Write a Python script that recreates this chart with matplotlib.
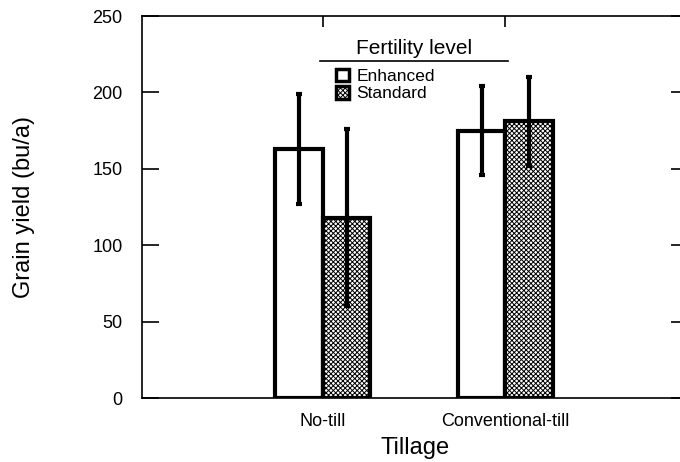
import matplotlib
matplotlib.use("Agg")
import matplotlib.pyplot as plt
import numpy as np
from matplotlib.patches import Patch
from matplotlib.lines import Line2D

plt.rcParams["font.family"] = ["Liberation Sans", "DejaVu Sans"]
plt.rcParams["hatch.linewidth"] = 0.7

# data
tillage = ["No-till", "Conventional-till"]
levels = ["Enhanced", "Standard"]
enhanced = [163, 175]
enhanced_err = [36, 29]
standard = [118, 181]
standard_err = [58, 29]
yticks = [0, 50, 100, 150, 200, 250]

fig = plt.figure(figsize=(6.8, 4.62), dpi=100)
ax = fig.add_axes([0.2088, 0.1385, 0.803, 0.8268])

x = np.arange(len(tillage))
w = 0.26
err_kw = dict(ecolor="black", elinewidth=3, capsize=2.5, capthick=3)
ax.bar(x - w / 2, enhanced, w, yerr=enhanced_err, color="white",
       edgecolor="black", linewidth=3, error_kw=err_kw, zorder=2)
ax.bar(x + w / 2, standard, w, yerr=standard_err, color="white",
       edgecolor="black", linewidth=3, hatch="xxxxxxx", error_kw=err_kw,
       zorder=2)

ax.set_xlim(-0.99, 2.0)
ax.set_ylim(0, 250)
ax.set_yticks(yticks)
ax.set_xticks(x)
ax.set_xticklabels(tillage, fontsize=13)
ax.tick_params(axis="y", direction="in", length=12, width=1.2, labelsize=13,
               right=True, pad=14)
ax.tick_params(axis="x", direction="in", length=8, width=1.2, top=True,
               bottom=False, pad=11)
for s in ax.spines.values():
    s.set_linewidth(1.2)
ax.spines["right"].set_visible(False)

ax.set_ylabel("Grain yield (bu/a)", fontsize=17)
ax.yaxis.set_label_coords(-0.196, 0.5)
ax.set_xlabel("Tillage", fontsize=17, labelpad=5)

handles = [Patch(facecolor="white", edgecolor="black", linewidth=2.5),
           Patch(facecolor="white", edgecolor="black", linewidth=2.5,
                 hatch="xxxxxxx")]
leg = ax.legend(handles, levels, loc="upper left",
                bbox_to_anchor=(0.34, 0.885), frameon=False, fontsize=12.5,
                handlelength=0.75, handleheight=0.75, handletextpad=0.4,
                labelspacing=0.1, borderpad=0)

fig.text(0.609, 1 - 48 / 462, "Fertility level", ha="center", va="center",
         fontsize=15)
fig.add_artist(Line2D([320 / 680, 508 / 680], [1 - 61 / 462] * 2,
                      color="black", linewidth=1.2))

fig.savefig("out.png", dpi=100)
